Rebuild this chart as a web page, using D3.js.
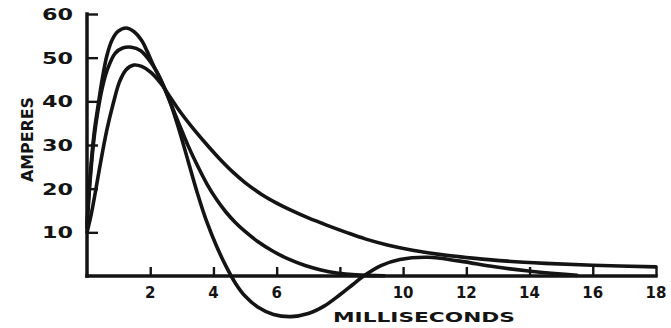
<!DOCTYPE html>
<html>
<head>
<meta charset="utf-8">
<script src="https://cdn.jsdelivr.net/npm/d3@7"></script>
<style>
  html, body { margin: 0; padding: 0; background: #fff; }
  svg { display: block; }
  text { font-family: "DejaVu Sans", sans-serif; font-weight: bold; fill: #141414; }
</style>
</head>
<body>
<svg id="chart" width="671" height="328"></svg>
<script>
// Current pulses (amperes) against time (milliseconds), three discharge circuits.
const xTicks = [2, 4, 6, 8, 10, 12, 14, 16, 18];
const xTickLabels = ["2", "4", "6", "", "10", "12", "14", "16", "18"];
const yTicks = [10, 20, 30, 40, 50, 60];
const yTickLabels = ["10", "20", "30", "40", "50", "60"];
const xTitle = "MILLISECONDS";
const yTitle = "AMPERES";

// Oscillating pulse: highest peak, swings below zero and back
const timeA = [0, 0.1, 0.23, 0.35, 0.48, 0.63, 0.79, 0.98, 1.23, 1.48, 1.74, 1.9, 2.13, 2.33, 2.6, 2.9, 3.2, 3.5, 3.8, 4.1, 4.4, 4.7, 5.0, 5.4, 5.9, 6.45, 7.0, 7.5, 8.0, 8.4, 8.75, 9.3, 9.9, 10.8, 11.8, 12.9, 13.9, 14.9, 15.5];
const ampsA = [12, 23, 33, 39, 45, 50.5, 54, 56, 56.8, 56, 53.8, 51.5, 47.8, 45, 40.4, 33.8, 26.3, 18.8, 12.2, 6.8, 2.2, -1.7, -4.6, -7.1, -8.8, -9.3, -8.6, -6.9, -4.3, -2.0, 0, 2.4, 3.8, 4.3, 3.4, 2.1, 1.2, 0.5, 0.15];

// Critically damped pulse
const timeB = [0, 0.1, 0.23, 0.35, 0.48, 0.63, 0.89, 1.13, 1.4, 1.7, 1.95, 2.15, 2.33, 2.6, 2.9, 3.2, 3.5, 3.8, 4.1, 4.4, 4.7, 5.0, 5.4, 5.9, 6.4, 6.9, 7.4, 7.9, 8.5, 9.4];
const ampsB = [11, 22, 32, 38, 43, 47, 51, 52.2, 52.4, 51.6, 49.6, 47.5, 45, 40.4, 35.0, 29.8, 25.2, 21.0, 17.5, 14.6, 12.2, 10.2, 7.9, 5.6, 3.8, 2.4, 1.4, 0.7, 0.25, 0.05];

// Overdamped pulse: lowest peak, long tail
const timeC = [0, 0.13, 0.26, 0.43, 0.63, 0.83, 1.03, 1.23, 1.48, 1.73, 2.03, 2.35, 2.6, 3.0, 3.4, 3.8, 4.2, 4.6, 5.0, 5.5, 6.0, 6.5, 7.0, 7.6, 8.2, 8.8, 9.5, 10.3, 11.2, 12.2, 13.3, 14.5, 16.0, 18];
const ampsC = [10, 14, 19, 26, 33.5, 39.5, 44.5, 47.2, 48.3, 48, 46.6, 44.0, 41.3, 37.1, 33.4, 30.0, 26.8, 23.9, 21.4, 18.8, 16.7, 14.9, 13.3, 11.6, 10.0, 8.5, 7.1, 5.9, 4.9, 4.1, 3.4, 2.9, 2.45, 2.1];

const svg = d3.select("#chart");
const ink = "#141414";

const x = d3.scaleLinear().domain([0, 18]).range([87, 656]);
const y = d3.scaleLinear().domain([0, 60]).range([276, 14]);

// Axes: ticks point inward (up from the time axis, right from the current axis)
const xAxis = d3.axisBottom(x).tickValues(xTicks).tickSize(-9).tickPadding(0).tickFormat(() => "");
const gx = svg.append("g").attr("transform", `translate(0,${y(0)})`).call(xAxis);
gx.select(".domain").attr("d", `M${x(0)},0H${x(18)}`);

const yAxis = d3.axisLeft(y).tickValues(yTicks).tickSize(-11).tickFormat(() => "");
const gy = svg.append("g").attr("transform", `translate(${x(0)},0)`).call(yAxis);
gy.select(".domain").attr("d", `M0,${y(60)}V${y(0)}`);

svg.selectAll(".domain").attr("stroke", ink).attr("stroke-width", 3.5).attr("fill", "none").attr("stroke-linecap", "square");
svg.selectAll(".tick line").attr("stroke", ink).attr("stroke-width", 2.4);

// Tick labels
svg.append("g").selectAll("text")
  .data(xTicks.map((t, i) => ({ t, label: xTickLabels[i] })).filter(d => d.label))
  .join("text")
  .attr("x", d => x(d.t))
  .attr("y", 298)
  .attr("text-anchor", "middle")
  .attr("font-size", 15)
  .text(d => d.label);

svg.append("g").selectAll("text")
  .data(yTicks.map((v, i) => ({ v, label: yTickLabels[i] })))
  .join("text")
  .attr("x", 73)
  .attr("y", d => y(d.v) + 6)
  .attr("text-anchor", "end")
  .attr("font-size", 16)
  .attr("textLength", 31)
  .attr("lengthAdjust", "spacingAndGlyphs")
  .text(d => d.label);

// Axis titles
svg.append("text")
  .attr("x", 333).attr("y", 322)
  .attr("font-size", 14.5)
  .attr("textLength", 182)
  .attr("lengthAdjust", "spacingAndGlyphs")
  .text(xTitle);

svg.append("text")
  .attr("transform", "translate(33,182) rotate(-90)")
  .attr("font-size", 16)
  .attr("textLength", 85)
  .attr("lengthAdjust", "spacingAndGlyphs")
  .text(yTitle);

// Current curves
const line = d3.line()
  .x(d => x(d[0]))
  .y(d => y(d[1]))
  .curve(d3.curveCatmullRom.alpha(0.5));

const series = [
  d3.zip(timeA, ampsA),
  d3.zip(timeB, ampsB),
  d3.zip(timeC, ampsC)
];

svg.append("g").selectAll("path")
  .data(series)
  .join("path")
  .attr("d", line)
  .attr("fill", "none")
  .attr("stroke", ink)
  .attr("stroke-width", 3.6)
  .attr("stroke-linejoin", "round")
  .attr("stroke-linecap", "round");
</script>
</body>
</html>
